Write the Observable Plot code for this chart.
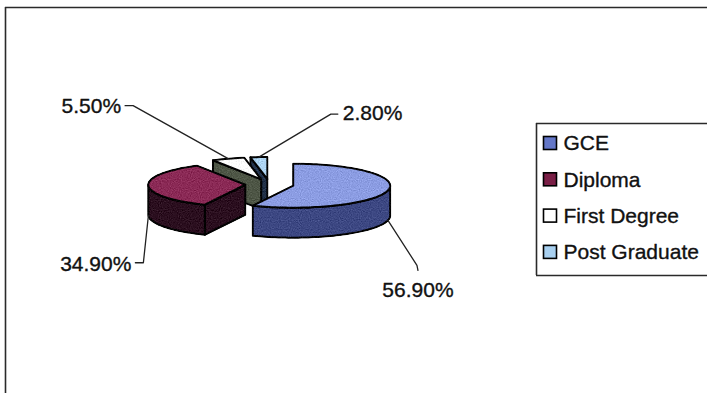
<!DOCTYPE html>
<html><head><meta charset="utf-8">
<script src="https://cdn.jsdelivr.net/npm/d3@7"></script>
<script src="https://cdn.jsdelivr.net/npm/@observablehq/plot@0.6"></script>
<style>
body{margin:0;background:#fff;}
#chart{width:707px;height:393px;overflow:hidden;}
</style>
</head><body><div id="chart"></div>
<script>
// ---- data ----
const categories = ["GCE", "Diploma", "First Degree", "Post Graduate"];
const shares = [56.9, 34.9, 5.5, 2.8];
const valueLabels = ["56.90%", "34.90%", "5.50%", "2.80%"];

// ---- styles ----
const topColors = ["#8c9de3", "#8b2a56", "#ffffff", "#aed5f3"];
const sideColors = ["#3d4883", "#2b0f1f", "#4e5646", "#22324a"];
const legendColors = ["#6477c8", "#7a1f46", "#ffffff", "#a8d0f0"];

// ---- layout ----
const W = 707, H = 393;
const pie3d = {cx: 269, cy: 184, rx: 97, ry: 22, depth: 30, explode: 0.25};
const labelLayout = [
  {elbow: [29, 45], end: [30, 50], text: [30, 70], anchor: "middle"},
  {elbow: [-5, 47], end: [-13, 47], text: [-17, 49], anchor: "end"},
  {elbow: [-95, -53], end: [-103, -53], text: [-107, -52], anchor: "end"},
  {elbow: [72, -43], end: [79, -43], text: [84, -44], anchor: "start"}
];
const legendBox = {x0: 536, x1: 712, y0: 123, y1: 275, row0: 143, step: 36.3, sw: 13, swX: 550, textX: 563};

// ---- geometry from data ----
const arcs = d3.pie().sort(null).value(d => d)(shares);
const slices = arcs.map((a, i) => {
  const m = (a.startAngle + a.endAngle) / 2;
  const ax = pie3d.cx + pie3d.explode * pie3d.rx * Math.sin(m);
  const ay = pie3d.cy - pie3d.explode * pie3d.ry * Math.cos(m);
  return {i, a0: a.startAngle, a1: a.endAngle, m, ax, ay};
});
function P(s, a, dz = 0) {
  return [s.ax + pie3d.rx * Math.sin(a), s.ay - pie3d.ry * Math.cos(a) + dz];
}
function arcPts(s, a0, a1, dz = 0) {
  const n = Math.max(2, Math.ceil((a1 - a0) / (Math.PI / 90)));
  return d3.range(n + 1).map(k => P(s, a0 + (a1 - a0) * k / n, dz));
}
const polys = [];
let pid = 0;
function addPoly(pts, fill) {
  const id = pid++;
  pts.concat([pts[0]]).forEach(([x, y]) => polys.push({id, x, y, fill}));
}
const D = pie3d.depth;
const order = slices.slice().sort((a, b) => a.ay - b.ay);
for (const s of order) {
  const side = sideColors[s.i], top = topColors[s.i];
  if (Math.sin(s.a0) < -1e-6) {
    const r = P(s, s.a0);
    addPoly([[s.ax, s.ay], r, [r[0], r[1] + D], [s.ax, s.ay + D]], side);
  }
  if (Math.sin(s.a1) > 1e-6) {
    const r = P(s, s.a1);
    addPoly([[s.ax, s.ay], r, [r[0], r[1] + D], [s.ax, s.ay + D]], side);
  }
  const w0 = Math.max(s.a0, Math.PI / 2), w1 = Math.min(s.a1, 3 * Math.PI / 2);
  if (w1 > w0) {
    const t = arcPts(s, w0, w1, 0), b = arcPts(s, w0, w1, D).reverse();
    addPoly(t.concat(b), side);
  }
  addPoly([[s.ax, s.ay]].concat(arcPts(s, s.a0, s.a1, 0)), top);
}

// leaders and labels
const leaders = [], labels = [];
slices.forEach((s, i) => {
  const front = Math.cos(s.m) < 0;
  const [x, y] = P(s, s.m, front ? D : 0);
  const L = labelLayout[i];
  [[x, y], [x + L.elbow[0], y + L.elbow[1]], [x + L.end[0], y + L.end[1]]]
    .forEach(([px, py]) => leaders.push({id: i, x: px, y: py}));
  labels.push({x: x + L.text[0], y: y + L.text[1], text: valueLabels[i], anchor: L.anchor});
});

const legendRows = categories.map((c, i) => ({
  name: c, color: legendColors[i], y: legendBox.row0 + i * legendBox.step
}));

const font = "'Liberation Sans', Arial, Helvetica, sans-serif";
const textMarks = ["start", "middle", "end"].map(anc =>
  Plot.text(labels.filter(d => d.anchor === anc), {
    x: "x", y: "y", text: "text", textAnchor: anc, fontSize: 21, fill: "#111",
    stroke: "#111", strokeWidth: 0.35, fontFamily: font
  }));

const chart = Plot.plot({
  width: W, height: H,
  margin: 0,
  x: {domain: [0, W], range: [0, W], axis: null},
  y: {domain: [0, H], range: [0, H], axis: null},
  color: {type: "identity"},
  style: {fontFamily: font, background: "#fff"},
  marks: [
    Plot.ruleY([7], {x1: 5, x2: W + 5, stroke: "#2a2a2a", strokeWidth: 1.6}),
    Plot.ruleX([5], {y1: 7, y2: H + 5, stroke: "#2a2a2a", strokeWidth: 1.6}),
    Plot.line(polys, {x: "x", y: "y", z: "id", fill: "fill", stroke: "#000", strokeWidth: 2,
      strokeLinejoin: "round", curve: "linear"}),
    Plot.line(leaders, {x: "x", y: "y", z: "id", stroke: "#222", strokeWidth: 1.3, curve: "linear"}),
    ...textMarks,
    Plot.ruleY([legendBox.y0, legendBox.y1], {x1: legendBox.x0, x2: legendBox.x1, stroke: "#2a2a2a", strokeWidth: 1.6}),
    Plot.ruleX([legendBox.x0], {y1: legendBox.y0, y2: legendBox.y1, stroke: "#2a2a2a", strokeWidth: 1.6}),
    Plot.rect(legendRows, {
      x1: () => legendBox.swX - legendBox.sw / 2, x2: () => legendBox.swX + legendBox.sw / 2,
      y1: d => d.y - legendBox.sw / 2, y2: d => d.y + legendBox.sw / 2,
      fill: "color", stroke: "#000", strokeWidth: 1.6
    }),
    Plot.text(legendRows, {x: () => legendBox.textX, y: "y", text: "name", textAnchor: "start",
      fontSize: 21, fill: "#111", stroke: "#111", strokeWidth: 0.35, fontFamily: font})
  ]
});

// subtle speckle texture on the pie (scanned look)
try {
  const svgNS = "http://www.w3.org/2000/svg";
  const mk = (tag, attrs, parent) => {
    const el = document.createElementNS(svgNS, tag);
    for (const k in attrs) el.setAttribute(k, attrs[k]);
    parent.appendChild(el);
    return el;
  };
  const defs = document.createElementNS(svgNS, "defs");
  const f = mk("filter", {id: "grain", filterUnits: "userSpaceOnUse", x: 0, y: 0, width: W, height: H,
    "color-interpolation-filters": "sRGB"}, defs);
  mk("feTurbulence", {type: "fractalNoise", baseFrequency: "0.9", numOctaves: "1", seed: "4", result: "noise"}, f);
  mk("feColorMatrix", {in: "noise", type: "matrix",
    values: "0.33 0.33 0.33 0 0  0.33 0.33 0.33 0 0  0.33 0.33 0.33 0 0  0 0 0 0 1", result: "gray"}, f);
  mk("feComposite", {in: "SourceGraphic", in2: "gray", operator: "arithmetic", k1: 0, k2: 1, k3: 0.45, k4: -0.225, result: "mix"}, f);
  mk("feComposite", {in: "mix", in2: "SourceGraphic", operator: "in"}, f);
  chart.insertBefore(defs, chart.firstChild);
  const g = chart.querySelectorAll('g[aria-label="line"]')[0];
  if (g) g.setAttribute("filter", "url(#grain)");
} catch (e) {}

document.getElementById("chart").appendChild(chart);
</script>
</body></html>
